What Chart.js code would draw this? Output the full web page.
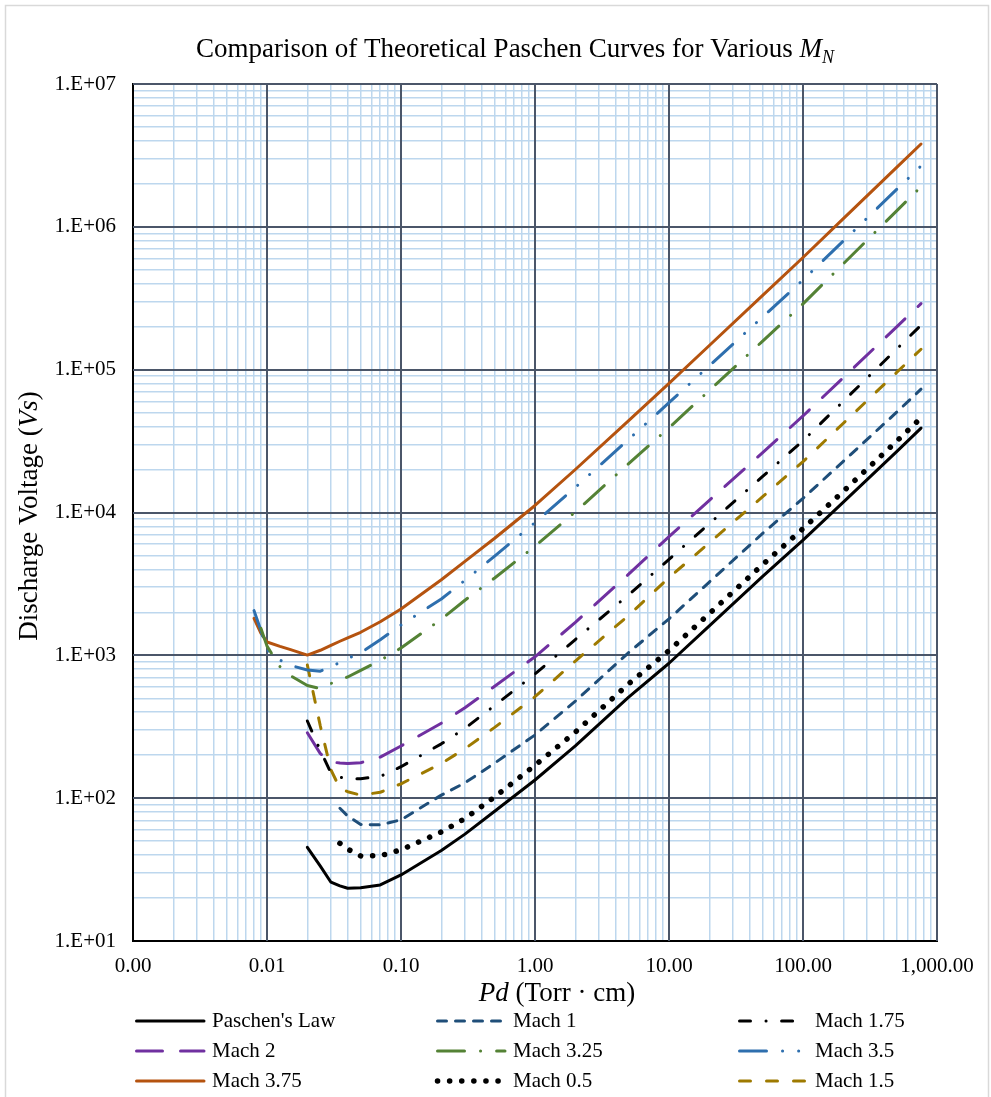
<!DOCTYPE html>
<html>
<head>
<meta charset="utf-8">
<script src="https://cdn.jsdelivr.net/npm/chart.js@4.4.1/dist/chart.umd.min.js"></script>
<style>
  html, body { margin: 0; padding: 0; background: #fff; }
  canvas { display: block; }
</style>
</head>
<body>
<canvas id="paschenCanvas" width="991" height="1097"></canvas>
<script>
// Pd (Torr cm) sample points shared by every curve
var pd = [0.008, 0.009, 0.01, 0.0125, 0.015, 0.02, 0.025, 0.03, 0.035, 0.04, 0.05, 0.07, 0.1,
          0.2, 0.3, 0.5, 1, 2, 5, 10, 20, 50, 100, 200, 500, 760];

// discharge voltage (V), null where a curve has not started
var paschenLaw = [null, null, null, null, null, 45.3, 33.4, 25.8, 24.3, 23.4, 23.6, 24.7, 29,
                  43, 56, 81, 134, 232, 510, 880, 1606, 3570, 6400, 11830, 26650, 39000];
var mach1 = [null, null, null, null, null, null, null, null, 85, 75, 65.5, 65, 70.5,
             105, 128, 176, 277, 478, 1046, 1800, 3260, 7140, 12560, 22830, 50370, 73000];
var mach175 = [null, null, null, null, null, 347, 216, 150, 140, 137, 137, 142, 166,
               240, 308, 445, 740, 1290, 2650, 4700, 8360, 17900, 31800, 60100, 139400, 205000];
var mach2 = [null, null, null, null, null, 287, 205, 180, 176, 175, 177, 194, 232,
             335, 430, 608, 977, 1700, 3700, 6780, 12160, 26300, 47400, 88000, 199600, 290000];
var mach325 = [null, 1546, 1160, 834, 720, 615, 585, 635, 680, 705, 785, 921, 1125,
               1790, 2430, 3480, 5810, 10100, 22000, 39200, 71500, 158500, 289000, 551000, 1294000, 1910000];
var mach35 = [2056, 1500, 1090, 927, 850, 790, 775, 835, 890, 950, 1040, 1285, 1630,
              2480, 3350, 4950, 8500, 15000, 32500, 58700, 106600, 234000, 425000, 796000, 1827000, 2670000];
var mach375 = [1816, 1430, 1240, 1156, 1097, 1004, 1085, 1175, 1255, 1325, 1450, 1719, 2110,
               3380, 4550, 6600, 11200, 20000, 44000, 80200, 147600, 331000, 610000, 1140000, 2610000, 3800000];
var mach05 = [null, null, null, null, null, null, null, null, 48.3, 44, 39.4, 39.5, 43.5,
              58, 72, 102, 170, 290, 632, 1080, 1960, 4320, 7710, 14080, 31580, 46000];
var mach15 = [null, null, null, null, null, 855, 320, 158, 117, 111, 105, 110, 126,
              175, 222, 313, 513, 912, 1905, 3500, 6140, 12900, 22700, 42150, 95600, 139000];

var pdTicks = [0.001, 0.01, 0.1, 1, 10, 100, 1000];
var pdTickLabels = ['0.00', '0.01', '0.10', '1.00', '10.00', '100.00', '1,000.00'];
var vsTicks = [1e1, 1e2, 1e3, 1e4, 1e5, 1e6, 1e7];
var vsTickLabels = ['1.E+01', '1.E+02', '1.E+03', '1.E+04', '1.E+05', '1.E+06', '1.E+07'];

var serif = '"Liberation Serif", "Times New Roman", serif';

function points(vals) {
    var out = [];
    for (var i = 0; i < pd.length; i++) {
        if (vals[i] !== null) out.push({x: pd[i], y: vals[i]});
    }
    return out;
}

function line(label, vals, color, dash, width) {
    return {
        label: label,
        data: points(vals),
        borderColor: color,
        backgroundColor: color,
        borderDash: dash,
        borderWidth: width || 3,
        borderCapStyle: 'round',
        borderJoinStyle: 'round',
        pointRadius: 0,
        tension: 0,
        fill: false
    };
}

// legend order (row by row, three columns)
var datasets = [
    line("Paschen's Law", paschenLaw, '#000000', []),
    line('Mach 1', mach1, '#1F4E79', [9, 9]),
    line('Mach 1.75', mach175, '#000000', [11, 15.5, 0.1, 15.5]),
    line('Mach 2', mach2, '#7030A0', [26, 18]),
    line('Mach 3.25', mach325, '#548235', [27, 16, 0.1, 16]),
    line('Mach 3.5', mach35, '#2E6FAE', [27, 16, 0.1, 16, 0.1, 16]),
    line('Mach 3.75', mach375, '#B5530F', []),
    line('Mach 0.5', mach05, '#000000', [0.1, 12], 5.5),
    line('Mach 1.5', mach15, '#9E7A00', [11, 16])
];

function isDecade(v) {
    var l = Math.log10(v);
    return Math.abs(l - Math.round(l)) < 1e-6;
}

function logTicks(decades) {
    var t = [];
    for (var i = 0; i < decades.length - 1; i++) {
        for (var k = 1; k <= 9; k++) t.push({value: decades[i] * k});
    }
    t.push({value: decades[decades.length - 1]});
    return t;
}

function labelFor(v, ticks, labels) {
    for (var i = 0; i < ticks.length; i++) {
        if (Math.abs(Math.log10(ticks[i] / v)) < 1e-6) return labels[i];
    }
    return '';
}

function drawRuns(ctx, runs, x, y) {
    var total = 0;
    runs.forEach(function (r) {
        ctx.font = (r.italic ? 'italic ' : '') + r.size + 'px ' + serif;
        r.w = ctx.measureText(r.t).width;
        total += r.w;
    });
    var cx = x - total / 2;
    runs.forEach(function (r) {
        ctx.font = (r.italic ? 'italic ' : '') + r.size + 'px ' + serif;
        ctx.fillText(r.t, cx, y + (r.dy || 0));
        cx += r.w;
    });
}

var framePlugin = {
    id: 'frame',
    beforeDraw: function (chart) {
        var ctx = chart.ctx;
        ctx.save();
        ctx.strokeStyle = '#D9D9D9';
        ctx.lineWidth = 1.5;
        ctx.strokeRect(5.5, 5.5, 983, 1120);
        ctx.restore();
    }
};

// put the decade lines back on top of the light minor grid
var majorGridPlugin = {
    id: 'majorGrid',
    beforeDatasetsDraw: function (chart) {
        var ctx = chart.ctx, a = chart.chartArea;
        var xs = chart.scales.x, ys = chart.scales.y;
        ctx.save();
        ctx.strokeStyle = '#4B5669';
        ctx.lineWidth = 2;
        ctx.beginPath();
        pdTicks.slice(1).forEach(function (v) {
            var px = Math.round(xs.getPixelForValue(v));
            ctx.moveTo(px, a.top); ctx.lineTo(px, a.bottom);
        });
        vsTicks.slice(1).forEach(function (v) {
            var py = Math.round(ys.getPixelForValue(v));
            ctx.moveTo(a.left, py); ctx.lineTo(a.right, py);
        });
        ctx.stroke();
        ctx.restore();
    }
};

var textPlugin = {
    id: 'texts',
    afterDraw: function (chart) {
        var ctx = chart.ctx;
        ctx.save();
        ctx.fillStyle = '#000';
        ctx.textAlign = 'left';
        ctx.textBaseline = 'alphabetic';
        drawRuns(ctx, [
            {t: 'Comparison of Theoretical Paschen Curves for Various ', size: 27},
            {t: 'M', italic: true, size: 27},
            {t: 'N', italic: true, size: 18, dy: 6}
        ], 515, 57);

        ctx.textBaseline = 'middle';
        drawRuns(ctx, [
            {t: 'Pd', italic: true, size: 27},
            {t: ' (Torr \u00B7 cm)', size: 27}
        ], 557, 994);

        ctx.save();
        ctx.translate(30, 516);
        ctx.rotate(-Math.PI / 2);
        drawRuns(ctx, [
            {t: 'Discharge Voltage (', size: 27},
            {t: 'Vs', italic: true, size: 27},
            {t: ')', size: 27}
        ], 0, 0);
        ctx.restore();

        // legend
        var colX = [135, 436, 738];
        var rowY = [1021, 1051, 1081];
        chart.data.datasets.forEach(function (ds, i) {
            var x0 = colX[i % 3], y0 = rowY[Math.floor(i / 3)];
            ctx.save();
            ctx.strokeStyle = ds.borderColor;
            ctx.lineWidth = ds.borderWidth;
            ctx.lineCap = 'round';
            ctx.setLineDash(ds.borderDash);
            ctx.beginPath();
            ctx.moveTo(x0 + 1.5, y0);
            ctx.lineTo(x0 + 69, y0);
            ctx.stroke();
            ctx.restore();
            ctx.font = '21px ' + serif;
            ctx.fillText(ds.label, x0 + 77, y0);
        });
        ctx.restore();
    }
};

var chart = new Chart(document.getElementById('paschenCanvas'), {
    type: 'line',
    data: { datasets: datasets },
    options: {
        responsive: false,
        animation: false,
        devicePixelRatio: 1,
        layout: { padding: { top: 84, right: 54, left: 0, bottom: 0 } },
        plugins: {
            legend: { display: false },
            title: { display: false },
            tooltip: { enabled: false }
        },
        scales: {
            x: {
                type: 'logarithmic',
                min: 0.001,
                max: 1000,
                afterBuildTicks: function (s) { s.ticks = logTicks(pdTicks); },
                afterFit: function (s) { s.height = 156; },
                ticks: {
                    autoSkip: false,
                    maxRotation: 0,
                    minRotation: 0,
                    padding: 13,
                    color: '#000',
                    font: { family: serif, size: 21 },
                    callback: function (v) { return labelFor(v, pdTicks, pdTickLabels); }
                },
                grid: {
                    drawTicks: false,
                    color: function (c) { return c.tick && isDecade(c.tick.value) ? '#4B5669' : '#BDD7EE'; },
                    lineWidth: function (c) { return c.tick && isDecade(c.tick.value) ? 2 : 1.5; }
                },
                border: { color: '#000', width: 2 }
            },
            y: {
                type: 'logarithmic',
                min: 10,
                max: 1e7,
                afterBuildTicks: function (s) { s.ticks = logTicks(vsTicks); },
                afterFit: function (s) { s.width = 133; },
                ticks: {
                    autoSkip: false,
                    padding: 17,
                    color: '#000',
                    font: { family: serif, size: 21 },
                    callback: function (v) { return labelFor(v, vsTicks, vsTickLabels); }
                },
                grid: {
                    drawTicks: false,
                    color: function (c) { return c.tick && isDecade(c.tick.value) ? '#4B5669' : '#BDD7EE'; },
                    lineWidth: function (c) { return c.tick && isDecade(c.tick.value) ? 2 : 1.5; }
                },
                border: { color: '#000', width: 2 }
            }
        }
    },
    plugins: [framePlugin, majorGridPlugin, textPlugin]
});
</script>
</body>
</html>
